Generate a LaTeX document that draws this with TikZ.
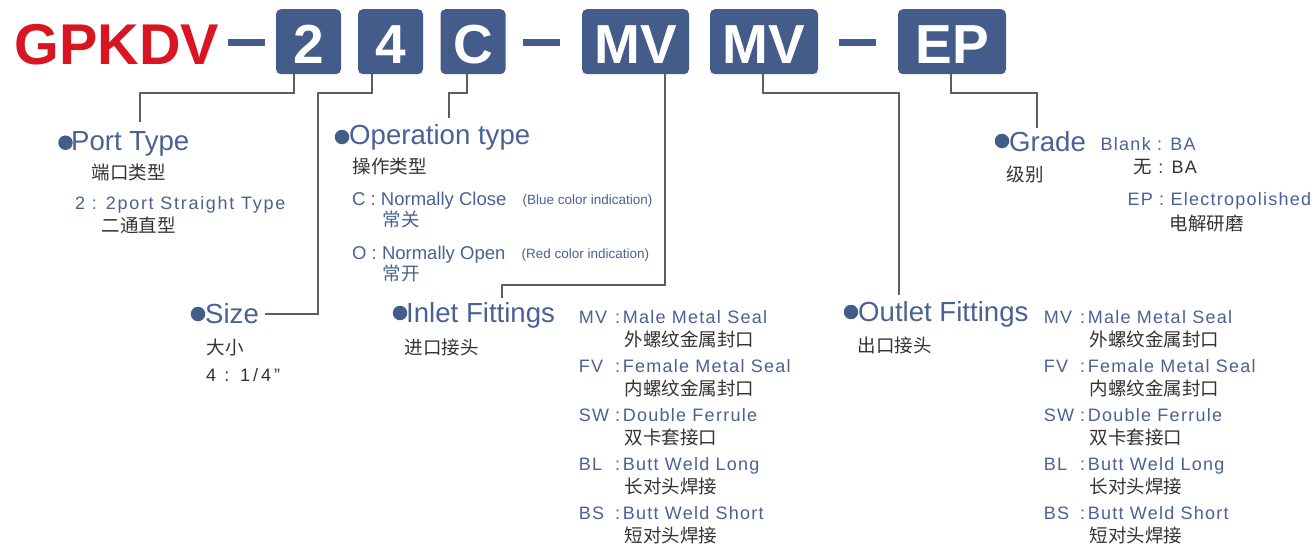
\documentclass[tikz,border=0pt]{standalone}
\usepackage{fontspec}
\setmainfont{Liberation Sans}
\newfontfamily\lsp[LetterSpace=7]{Liberation Sans}
\newfontfamily\lspp[LetterSpace=9.5]{Liberation Sans}
\newfontfamily\lspw[LetterSpace=17]{Liberation Sans}
\newfontfamily\cjk{Noto Sans CJK SC}
\definecolor{boxblue}{HTML}{445C8A}
\definecolor{txtblue}{HTML}{4A6194}
\definecolor{gred}{HTML}{D81520}
\definecolor{linegray}{HTML}{5E5E5E}
\definecolor{zhgray}{HTML}{333333}
\begin{document}
\begin{tikzpicture}[x=1pt,y=-1pt,
  title/.style={font=\bfseries\fontsize{57.5}{60}\selectfont, text=gred, inner sep=0pt, anchor=base west},
  codebox/.style={fill=boxblue, rounded corners=5pt, minimum height=65pt, text=white,
    font=\bfseries\fontsize{55}{58}\selectfont, text height=43pt, text depth=0pt, inner sep=0pt},
  dashbar/.style={fill=boxblue, minimum width=37pt, minimum height=7pt, inner sep=0pt},
  conn/.style={draw=linegray, line width=1.6pt},
  dot/.style={circle, fill=boxblue, minimum size=14.5pt, inner sep=0pt},
  head/.style={font=\fontsize{27.6}{30}\selectfont, text=txtblue, inner sep=0pt, anchor=base west},
  sub/.style={font=\lsp\fontsize{18}{20}\selectfont, text=txtblue, inner sep=0pt, anchor=base west},
  subp/.style={font=\lspp\fontsize{18}{20}\selectfont, text=txtblue, inner sep=0pt, anchor=base west},
  opsub/.style={font=\fontsize{18.5}{20}\selectfont, text=txtblue, inner sep=0pt, anchor=base west},
  note/.style={font=\fontsize{13.5}{15}\selectfont, text=txtblue, inner sep=0pt, anchor=base west},
  zh/.style={font=\cjk\fontsize{18.5}{20}\selectfont, text=zhgray, inner sep=0pt, anchor=base west},
  zhb/.style={font=\cjk\fontsize{18.5}{20}\selectfont, text=txtblue, inner sep=0pt, anchor=base west},
  plain/.style={font=\lsp\fontsize{18}{20}\selectfont, text=zhgray, inner sep=0pt, anchor=base west},
  plainw/.style={font=\lspw\fontsize{18}{20}\selectfont, text=zhgray, inner sep=0pt, anchor=base west}
]
\useasboundingbox (0,0) rectangle (1316,549);

% header
\node[title] (ttl) at (14.5,64) {GPKDV};
\node[dashbar] (d1) at (246.5,42.5) {};
\node[codebox, minimum width=65pt] (b2) at (308.5,41.7) {2};
\node[codebox, minimum width=65pt] (b4) at (390.5,41.7) {4};
\node[codebox, minimum width=65pt] (bC) at (473,41.7) {C};
\node[dashbar] (d2) at (541.5,42.5) {};
\node[codebox, minimum width=107pt] (bMV1) at (635.5,41.7) {MV};
\node[codebox, minimum width=108pt] (bMV2) at (764,41.7) {MV};
\node[dashbar] (d3) at (857.5,42.5) {};
\node[codebox, minimum width=108pt] (bEP) at (952,41.7) {EP};

% connector ends
\coordinate (ptEnd) at (140,122);
\coordinate (szTurn) at (318,314);
\coordinate (szEnd) at (265,314);
\coordinate (opEnd) at (449,118);
\coordinate (inTurn) at (502,285);
\coordinate (inEnd) at (502,298);
\coordinate (outEnd) at (899,295);
\coordinate (grEnd) at (1037,128);

\draw[conn] ([xshift=-14.5pt]b2.south) -- ++(0,18.7) -| (ptEnd);
\draw[conn] ([xshift=-18.5pt]b4.south) -- ++(0,18.7) -| (szTurn) -- (szEnd);
\draw[conn] ([xshift=-6pt]bC.south) -- ++(0,18.7) -| (opEnd);
\draw[conn] ([xshift=29.5pt]bMV1.south) |- (inTurn) -- (inEnd);
\draw[conn] ([xshift=-1pt]bMV2.south) -- ++(0,18.7) -| (outEnd);
\draw[conn] ([xshift=-1pt]bEP.south) -- ++(0,18.7) -| (grEnd);

% Port type
\node[dot] (ptDot) at (65.5,142.7) {};
\node[head] (pt) at (71,150) {Port Type};
\node[zh] (ptZh) at (91.3,179) {端口类型};
\node[subp] (pt2) at (75,209) {2 : 2port Straight Type};
\node[zh] (pt2Zh) at (101.3,232) {二通直型};

% Operation type
\node[dot] (opDot) at (342,137) {};
\node[head] (op) at (349,144) {Operation type};
\node[zh] (opZh) at (352.3,173) {操作类型};
\node[opsub] (opC) at (352,205) {C : Normally Close};
\node[note] (opCn) at (522.5,204) {(Blue color indication)};
\node[zhb] (opCz) at (382.3,226) {常关};
\node[opsub] (opO) at (352,259) {O : Normally Open};
\node[note] (opOn) at (521.5,258) {(Red color indication)};
\node[zhb] (opOz) at (382.3,280) {常开};

% Size
\node[dot] (szDot) at (198,314) {};
\node[head] (sz) at (205,323) {Size};
\node[zh] (szZh) at (206.3,354) {大小};
\node[plainw] (sz4) at (206,381) {4 : 1/4”};

% Inlet
\node[dot] (inDot) at (400,313) {};
\node[head] (in) at (406,322) {Inlet Fittings};
\node[zh] (inZh) at (404.3,354) {进口接头};

% Outlet
\node[dot] (outDot) at (851,312) {};
\node[head] (out) at (858,321) {Outlet Fittings};
\node[zh] (outZh) at (857.3,352) {出口接头};

% Grade
\node[dot] (grDot) at (1002,141) {};
\node[head] (gr) at (1009,151) {Grade};
\node[zh] (grZh) at (1006.3,181) {级别};
\node[sub] (grB) at (1100.5,150.5) {Blank : BA};
\node[plain] (grBz) at (1133.3,173.5) {{\cjk\fontsize{18.5}{20}\selectfont 无} : BA};
\node[sub] (grE) at (1127.5,205.5) {EP : Electropolished};
\node[zh] (grEz) at (1169.3,230) {电解研磨};

% fitting lists
\foreach \c/\d/\z [count=\i from 0] in {MV/Male Metal Seal/外螺纹金属封口, FV/Female Metal Seal/内螺纹金属封口, SW/Double Ferrule/双卡套接口, BL/Butt Weld Long/长对头焊接, BS/Butt Weld Short/短对头焊接}{
  \node[sub] (inC\i) at (578.7, {323.5+49*\i}) {\c};
  \node[sub] (inK\i) at (615, {323.5+49*\i}) {:};
  \node[sub] (inD\i) at (622.7, {323.5+49*\i}) {\d};
  \node[zh] (inZ\i) at (624.3, {346+49*\i}) {\z};
  \node[sub] (outC\i) at (1043.7, {323.5+49*\i}) {\c};
  \node[sub] (outK\i) at (1080, {323.5+49*\i}) {:};
  \node[sub] (outD\i) at (1087.7, {323.5+49*\i}) {\d};
  \node[zh] (outZ\i) at (1089.3, {346+49*\i}) {\z};
}
\end{tikzpicture}
\end{document}
